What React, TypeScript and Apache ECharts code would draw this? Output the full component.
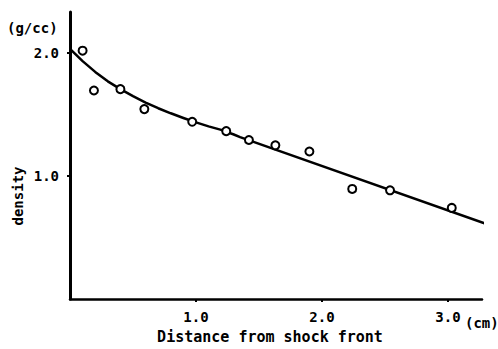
import React, { useEffect, useRef } from "react";
import * as echarts from "echarts";

// measured points (distance cm, density g/cc)
const pointX = [0.10, 0.19, 0.40, 0.59, 0.97, 1.24, 1.42, 1.63, 1.90, 2.24, 2.54, 3.03];
const pointY = [2.016, 1.693, 1.704, 1.542, 1.439, 1.363, 1.291, 1.248, 1.198, 0.894, 0.883, 0.740];

// fitted curve
const curveX = [0, 0.1, 0.2, 0.3, 0.4, 0.5, 0.6, 0.7, 0.8, 0.9, 1.0, 1.1, 1.2, 1.3, 1.35, 3.36];
const curveY = [2.03, 1.931, 1.844, 1.767, 1.704, 1.647, 1.595, 1.549, 1.508, 1.470, 1.434, 1.402, 1.373, 1.336, 1.315, 0.590];

const xTicks = [1, 2, 3];
const yTicks = [1, 2];

const FONT = "'DejaVu Sans Mono', monospace";

export default function App() {
  const ref = useRef<HTMLDivElement>(null);
  useEffect(() => {
    if (!ref.current) return;
    const chart = echarts.init(ref.current, null, { renderer: "svg" });
    chart.setOption({
      animation: false,
      backgroundColor: "#ffffff",
      grid: { left: 70, right: 16, top: 12, bottom: 44, containLabel: false },
      xAxis: {
        type: "value",
        min: 0,
        max: 3.27,
        interval: 1,
        name: "Distance from shock front",
        nameLocation: "middle",
        nameGap: 27,
        nameTextStyle: {
          fontFamily: FONT,
          fontWeight: "bold",
          fontSize: 15,
          color: "#000",
          padding: [0, 12, 0, 0],
        },
        splitLine: { show: false },
        axisLine: { show: true, lineStyle: { color: "#000", width: 2.5 } },
        axisTick: { show: true, length: 3, customValues: xTicks, lineStyle: { color: "#000", width: 2 } },
        axisLabel: {
          customValues: xTicks,
          margin: 11,
          fontFamily: FONT,
          fontWeight: "bold",
          fontSize: 14,
          color: "#000",
          formatter: (v: number) => v.toFixed(1),
        },
      },
      yAxis: {
        type: "value",
        min: 0,
        max: 2.33,
        interval: 1,
        splitLine: { show: false },
        axisLine: { show: true, lineStyle: { color: "#000", width: 3 } },
        axisTick: { show: true, length: 3, customValues: yTicks, lineStyle: { color: "#000", width: 2 } },
        axisLabel: {
          customValues: yTicks,
          margin: 11,
          fontFamily: FONT,
          fontWeight: "bold",
          fontSize: 14,
          color: "#000",
          padding: [2, 0, 0, 0],
          formatter: (v: number) => v.toFixed(1),
        },
      },
      series: [
        {
          type: "line",
          data: curveX.map((x, i) => [x, curveY[i]]),
          showSymbol: false,
          smooth: false,
          clip: false,
          lineStyle: { color: "#000", width: 2.5, join: "round" },
          z: 2,
        },
        {
          type: "scatter",
          data: pointX.map((x, i) => [x, pointY[i]]),
          symbol: "circle",
          symbolSize: 8,
          itemStyle: { color: "#fff", borderColor: "#000", borderWidth: 2, opacity: 1 },
          z: 3,
        },
      ],
      graphic: [
        {
          type: "text",
          left: 7,
          top: 21,
          style: { text: "(g/cc)", fontFamily: FONT, fontWeight: "bold", fontSize: 14, fill: "#000" },
        },
        {
          type: "text",
          x: 18,
          y: 196,
          rotation: Math.PI / 2,
          style: {
            text: "density",
            fontFamily: FONT,
            fontWeight: "bold",
            fontSize: 14,
            fill: "#000",
            align: "center",
            verticalAlign: "middle",
          },
        },
        {
          type: "text",
          left: 465,
          top: 316,
          style: { text: "(cm)", fontFamily: FONT, fontWeight: "bold", fontSize: 14, fill: "#000" },
        },
      ],
    });
    return () => chart.dispose();
  }, []);
  return <div ref={ref} style={{ width: 498, height: 349, position: "absolute", left: 0, top: 0 }} />;
}
